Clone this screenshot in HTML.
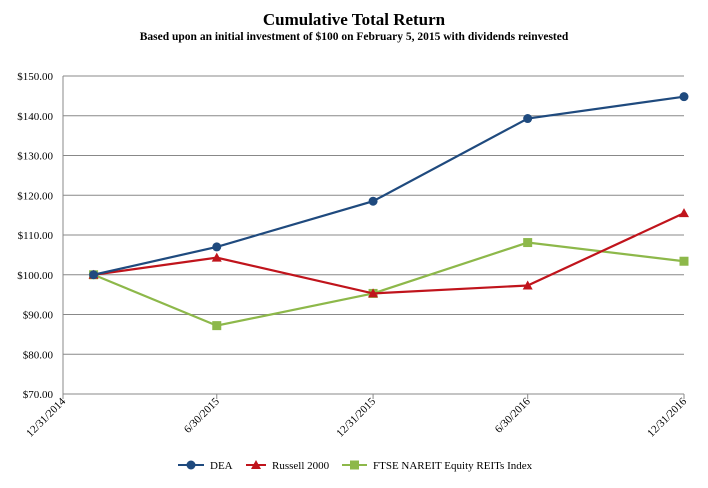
<!DOCTYPE html>
<html><head><meta charset="utf-8"><style>
body{margin:0;background:#fff;width:708px;height:483px;overflow:hidden}
svg text{font-family:"Liberation Serif",serif;fill:#000}
</style></head><body>
<svg width="708" height="483">
<text x="354" y="25" text-anchor="middle" font-size="17" font-weight="bold">Cumulative Total Return</text>
<text x="354" y="40" text-anchor="middle" font-size="11.5" font-weight="bold">Based upon an initial investment of $100 on February 5, 2015 with dividends reinvested</text>
<g id="grid"></g><g id="axes"></g><g id="series"></g><g id="legend"></g>
</svg>
<script>
const tickDays=[0,181,365,547,731];
const tickLabels=["12/31/2014","6/30/2015","12/31/2015","6/30/2016","12/31/2016"];
const pointDays=[36,181,365,547,731];
const yTicks=[70,80,90,100,110,120,130,140,150];
const seriesNames=["DEA","Russell 2000","FTSE NAREIT Equity REITs Index"];
const dea=[100,107.0,118.5,139.3,144.8];
const russell=[100,104.3,95.3,97.3,115.5];
const ftse=[100,87.2,95.3,108.1,103.4];
const colors=["#1f4a7e","#c0141c","#8db84a"];
const NS="http://www.w3.org/2000/svg";
const X=d=>63+d*(621/731), Y=v=>394-(v-70)*(318/80);
function mk(t,a,p){const e=document.createElementNS(NS,t);for(const k in a)e.setAttribute(k,a[k]);p.appendChild(e);return e;}
const g=document.getElementById('grid'),ax=document.getElementById('axes'),s=document.getElementById('series'),lg=document.getElementById('legend');
yTicks.forEach(v=>{
 if(v>70){const l=mk('line',{x1:63,x2:684,y1:Y(v),y2:Y(v),stroke:'#888','stroke-width':1},g);
 
 }
 const t=mk('text',{x:53,y:Y(v)+4,'text-anchor':'end','font-size':11},ax);t.textContent='$'+v.toFixed(2);
 
 
});
const xa=mk('line',{x1:63,x2:684,y1:394,y2:394,stroke:'#888'},ax);


const ya=mk('line',{x1:63,x2:63,y1:76,y2:394,stroke:'#888'},ax);


tickDays.forEach((d,i)=>{
 mk('line',{x1:X(d),x2:X(d),y1:394,y2:399,stroke:'#888'},ax);
 const t=mk('text',{x:X(d)+3,y:402,'text-anchor':'end','font-size':11,transform:`rotate(-45 ${X(d)+3} 402)`},ax);
 t.textContent=tickLabels[i];
 
 
});
function marker(type,x,y,c,p){
 if(type===0)return mk('circle',{cx:x,cy:y,r:4.5,fill:c},p);
 if(type===1)return mk('polygon',{points:`${x},${y-5} ${x+5},${y+4} ${x-5},${y+4}`,fill:c},p);
 return mk('rect',{x:x-4.5,y:y-4.5,width:9,height:9,fill:c},p);
}
[ftse,russell,dea].forEach((arr,j)=>{
 const i=2-j;
 const pl=mk('polyline',{points:arr.map((v,k)=>X(pointDays[k])+','+Y(v)).join(' '),fill:'none',stroke:colors[i],'stroke-width':2.2},s);
 
 
 arr.forEach((v,k)=>{const m=marker(i,X(pointDays[k]),Y(v),colors[i],s);
 
 });
});
const lx=[[178,210],[246,272],[342,373]];
seriesNames.forEach((n,i)=>{
 const ln=mk('line',{x1:lx[i][0],x2:lx[i][1]-6,y1:465,y2:465,stroke:colors[i],'stroke-width':2},lg);
 
 
 marker(i,(lx[i][0]+lx[i][1]-6)/2,465,colors[i],lg);
 const t=mk('text',{x:lx[i][1],y:469,'font-size':11},lg);t.textContent=n;
 
 
});
</script>
</body></html>
